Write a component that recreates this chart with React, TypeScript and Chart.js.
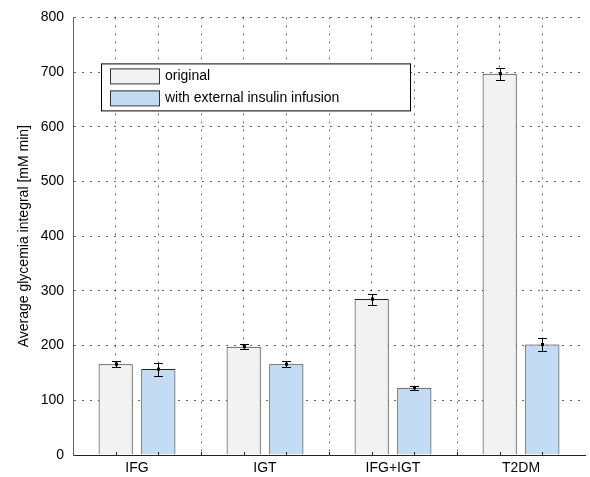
import React, { useEffect, useRef } from 'react';
import { Chart, registerables } from 'chart.js';

Chart.register(...registerables);

const categories = ['IFG', 'IGT', 'IFG+IGT', 'T2DM'];
const categoryCenters = [1.5, 4.5, 7.5, 10.5];
const originalPositions = [1, 4, 7, 10];
const insulinPositions = [2, 5, 8, 11];
const originalValues = [166, 198, 285, 697];
const originalErrors = [6, 5, 10, 11];
const insulinValues = [157, 166, 123, 202];
const insulinErrors = [12, 6, 4, 11];
const seriesLabels = ['original', 'with external insulin infusion'];
const seriesColors = ['#f2f2f2', '#c4dcf3'];
const yAxisTitle = 'Average glycemia integral [mM min]';

const FONT = "'Liberation Sans', Arial, Helvetica, sans-serif";
const GRID = 'rgba(0,0,0,0.6)';

const errorBarPlugin = {
  id: 'errorBars',
  afterDatasetsDraw(chart: any) {
    const { ctx } = chart;
    const y = chart.scales.y;
    chart.data.datasets.forEach((ds: any, di: number) => {
      const meta = chart.getDatasetMeta(di);
      meta.data.forEach((bar: any, i: number) => {
        const v = ds.data[i].y;
        const e = ds.errors[i];
        const x = Math.round(bar.x) + 0.5;
        const yt = Math.round(y.getPixelForValue(v + e)) + 0.5;
        const yb = Math.round(y.getPixelForValue(v - e)) + 0.5;
        const ym = y.getPixelForValue(v);
        ctx.save();
        ctx.strokeStyle = '#000';
        ctx.lineWidth = 1;
        ctx.beginPath();
        ctx.moveTo(x, yt);
        ctx.lineTo(x, yb);
        ctx.moveTo(x - 4.5, yt);
        ctx.lineTo(x + 4.5, yt);
        ctx.moveTo(x - 4.5, yb);
        ctx.lineTo(x + 4.5, yb);
        ctx.stroke();
        ctx.fillStyle = '#000';
        ctx.fillRect(x - 1.5, ym - 1.5, 3, 3);
        ctx.restore();
      });
    });
  },
};

const innerTicksPlugin = {
  id: 'innerTicks',
  afterDatasetsDraw(chart: any) {
    const { ctx } = chart;
    const xs = chart.scales.x;
    const ys = chart.scales.y;
    const bottom = ys.getPixelForValue(0);
    ctx.save();
    ctx.strokeStyle = '#222';
    ctx.lineWidth = 1;
    ctx.beginPath();
    xs.ticks.forEach((t: any) => {
      if (Number.isInteger(t.value) && t.value > xs.min && t.value < xs.max) {
        const px = Math.round(xs.getPixelForValue(t.value)) + 0.5;
        ctx.moveTo(px, bottom);
        ctx.lineTo(px, bottom - 3);
      }
    });
    ctx.stroke();
    ctx.restore();
  },
};

const legendPlugin = {
  id: 'insideLegend',
  afterDraw(chart: any) {
    const { ctx, chartArea } = chart;
    const left = chartArea.left + 28;
    const top = chartArea.top + 46;
    const w = 309;
    const h = 47;
    ctx.save();
    ctx.fillStyle = '#fff';
    ctx.fillRect(left, top, w, h);
    ctx.strokeStyle = '#000';
    ctx.lineWidth = 1;
    ctx.strokeRect(left + 0.5, top + 0.5, w, h);
    ctx.font = `14px ${FONT}`;
    ctx.textBaseline = 'middle';
    chart.data.datasets.forEach((ds: any, i: number) => {
      const sy = top + 5 + i * 22;
      ctx.fillStyle = ds.backgroundColor;
      ctx.fillRect(left + 9, sy, 49, 15);
      ctx.strokeStyle = '#333';
      ctx.strokeRect(left + 9.5, sy + 0.5, 49, 15);
      ctx.fillStyle = '#000';
      ctx.fillText(ds.label, left + 64, sy + 8);
    });
    ctx.restore();
  },
};

export default function App() {
  const canvasRef = useRef<HTMLCanvasElement>(null);

  useEffect(() => {
    if (!canvasRef.current) return;
    const chart = new Chart(canvasRef.current, {
      type: 'bar',
      data: {
        datasets: [
          {
            label: seriesLabels[0],
            data: originalPositions.map((p, i) => ({ x: p, y: originalValues[i] })),
            errors: originalErrors,
            backgroundColor: seriesColors[0],
            borderColor: '#222',
            borderWidth: 1,
            grouped: false,
            barPercentage: 1.6,
            categoryPercentage: 1,
          } as any,
          {
            label: seriesLabels[1],
            data: insulinPositions.map((p, i) => ({ x: p, y: insulinValues[i] })),
            errors: insulinErrors,
            backgroundColor: seriesColors[1],
            borderColor: '#222',
            borderWidth: 1,
            grouped: false,
            barPercentage: 1.6,
            categoryPercentage: 1,
          } as any,
        ],
      },
      options: {
        animation: false,
        responsive: true,
        maintainAspectRatio: false,
        layout: { padding: { top: 16, right: 0, bottom: 0, left: 0 } },
        plugins: {
          legend: { display: false },
          tooltip: { enabled: false },
        },
        scales: {
          x: {
            type: 'linear',
            min: 0,
            max: 12,
            offset: false,
            afterFit: (s: any) => {
              s.height = 22;
            },
            ticks: {
              stepSize: 0.5,
              autoSkip: false,
              maxRotation: 0,
              padding: 5,
              color: '#000',
              font: { family: FONT, size: 14 },
              callback: (v: any) => {
                const idx = categoryCenters.indexOf(Number(v));
                return idx >= 0 ? categories[idx] : '';
              },
            },
            grid: {
              offset: false,
              drawTicks: false,
              color: (c: any) =>
                c.tick && Number.isInteger(c.tick.value) && c.tick.value < 12 ? GRID : 'rgba(0,0,0,0)',
            },
            border: { display: true, color: '#222', width: 1, dash: [2, 6] },
          },
          y: {
            min: 0,
            max: 800,
            afterFit: (s: any) => {
              s.width = 73;
            },
            ticks: {
              stepSize: 100,
              padding: 9,
              color: '#000',
              font: { family: FONT, size: 14 },
            },
            grid: {
              drawTicks: false,
              color: GRID,
            },
            border: { display: true, color: '#666', width: 1, dash: [2, 6] },
            title: {
              display: true,
              text: yAxisTitle,
              color: '#000',
              font: { family: FONT, size: 14 },
              padding: { top: 16, bottom: 0 },
            },
          },
        },
      } as any,
      plugins: [errorBarPlugin, innerTicksPlugin, legendPlugin],
    });
    return () => chart.destroy();
  }, []);

  return (
    <div style={{ position: 'absolute', left: 0, top: 0, width: 590, height: 477, background: '#fff' }}>
      <canvas ref={canvasRef} />
    </div>
  );
}
